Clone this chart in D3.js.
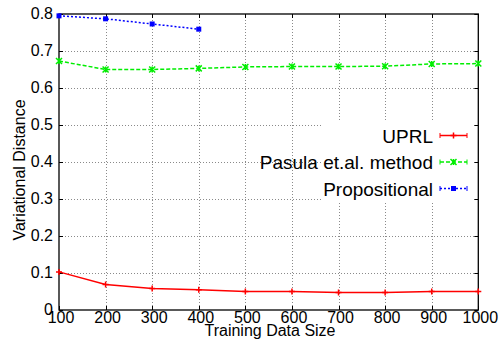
<!DOCTYPE html>
<html>
<head>
<meta charset="utf-8">
<script src="https://cdn.jsdelivr.net/npm/d3@7"></script>
<style>
  body { margin: 0; background: #fff; }
  svg { display: block; font-family: "Liberation Sans", Arial, sans-serif; }
</style>
</head>
<body>
<svg id="chart" width="500" height="339"></svg>
<script>
// data
const sizes = [100, 200, 300, 400, 500, 600, 700, 800, 900, 1000];
const uprl = [0.103, 0.069, 0.058, 0.055, 0.050, 0.050, 0.047, 0.047, 0.050, 0.050];
const pasula = [0.673, 0.650, 0.650, 0.653, 0.657, 0.658, 0.658, 0.659, 0.665, 0.666];
const propSizes = [100, 200, 300, 400];
const propositional = [0.795, 0.787, 0.773, 0.759];
const yTicks = [0, 0.1, 0.2, 0.3, 0.4, 0.5, 0.6, 0.7, 0.8];
const seriesNames = ['UPRL', 'Pasula et.al. method', 'Propositional'];

const svg = d3.select('#chart');
const plotL = 59, plotR = 478.3, plotT = 14, plotB = 310;

const x = d3.scaleLinear().domain([100, 1000]).range([plotL, plotR]);
const y = d3.scaleLinear().domain([0, 0.8]).range([plotB, plotT]);

// grid
const grid = svg.append('g').attr('class', 'grid')
    .attr('stroke', '#8a8a8a').attr('stroke-width', 1).attr('stroke-dasharray', '1,2');
grid.selectAll('line.v').data(sizes.slice(1, -1)).join('line')
    .attr('x1', d => Math.round(x(d)) + 0.5).attr('x2', d => Math.round(x(d)) + 0.5)
    .attr('y1', plotT).attr('y2', plotB);
grid.selectAll('line.h').data(yTicks.slice(1, -1)).join('line')
    .attr('x1', plotL).attr('x2', plotR)
    .attr('y1', d => Math.round(y(d)) + 0.5).attr('y2', d => Math.round(y(d)) + 0.5);

// key background (blanks the grid)
svg.append('rect').attr('x', 322).attr('y', 120).attr('width', plotR - 322).attr('height', 81)
    .attr('fill', '#fff');

// mirror ticks
const ticks = svg.append('g').attr('stroke', '#000').attr('stroke-width', 1);
yTicks.forEach(v => {
  const yy = Math.round(y(v)) + 0.5;
  ticks.append('line').attr('x1', plotL).attr('x2', plotL + 4).attr('y1', yy).attr('y2', yy);
  ticks.append('line').attr('x1', plotR - 4).attr('x2', plotR).attr('y1', yy).attr('y2', yy);
});
sizes.forEach(v => {
  const xx = Math.round(x(v)) + 0.5;
  ticks.append('line').attr('x1', xx).attr('x2', xx).attr('y1', plotB).attr('y2', plotB - 4);
  ticks.append('line').attr('x1', xx).attr('x2', xx).attr('y1', plotT).attr('y2', plotT + 4);
});

// border
svg.append('rect').attr('x', plotL).attr('y', plotT).attr('width', plotR - plotL).attr('height', plotB - plotT)
    .attr('fill', 'none').attr('stroke', '#000').attr('stroke-width', 1.3);

// tick labels via d3 axes
const yAxis = svg.append('g').attr('transform', `translate(${plotL},0)`)
    .call(d3.axisLeft(y).tickValues(yTicks).tickSize(0).tickPadding(6)
      .tickFormat(d => d === 0 ? '0' : d3.format('.1f')(d)));
yAxis.select('.domain').remove();
yAxis.selectAll('text').attr('font-size', 16).attr('fill', '#000')
    .attr('font-family', '"Liberation Sans", Arial, sans-serif')
    .attr('dy', null).attr('y', 4.2);

const xAxis = svg.append('g').attr('transform', `translate(0,${plotB})`)
    .call(d3.axisBottom(x).tickValues(sizes).tickSize(0).tickFormat(d3.format('d')));
xAxis.select('.domain').remove();
xAxis.selectAll('text').attr('font-size', 16).attr('fill', '#000')
    .attr('font-family', '"Liberation Sans", Arial, sans-serif')
    .attr('dy', null).attr('y', 12.7).attr('x', 1.5);

svg.append('text').attr('x', 270).attr('y', 336).attr('text-anchor', 'middle')
    .attr('font-size', 16).text('Training Data Size');
svg.append('text').attr('transform', 'translate(25,170) rotate(-90)').attr('text-anchor', 'middle')
    .attr('font-size', 16).text('Variational Distance');

// series
const colors = ['#ff0000', '#00ee00', '#0000ff'];
const dashes = [null, '4,2', '2,2'];
const line = d3.line().x(d => x(d[0])).y(d => y(d[1]));

function marker(g, kind, cx, cy, color) {
  if (kind === 0) {
    g.append('path').attr('d', `M${cx - 3},${cy}H${cx + 3}M${cx},${cy - 3}V${cy + 3}`)
      .attr('stroke', color).attr('stroke-width', 1.5);
  } else if (kind === 1) {
    g.append('path').attr('d', `M${cx - 3},${cy - 3}L${cx + 3},${cy + 3}M${cx - 3},${cy + 3}L${cx + 3},${cy - 3}M${cx},${cy - 3}V${cy + 3}`)
      .attr('stroke', color).attr('stroke-width', 1.5);
  } else {
    g.append('rect').attr('x', cx - 2.5).attr('y', cy - 2.5).attr('width', 5).attr('height', 5)
      .attr('fill', color);
  }
}

const series = [
  sizes.map((s, i) => [s, uprl[i]]),
  sizes.map((s, i) => [s, pasula[i]]),
  propSizes.map((s, i) => [s, propositional[i]])
];

series.forEach((pts, k) => {
  const g = svg.append('g');
  g.append('path').datum(pts).attr('d', line).attr('fill', 'none')
    .attr('stroke', colors[k]).attr('stroke-width', 1.5)
    .attr('stroke-dasharray', dashes[k]);
  pts.forEach(p => marker(g, k, x(p[0]), y(p[1]), colors[k]));
});

// key
const keyY = [135.5, 162, 188.5];
seriesNames.forEach((name, k) => {
  const g = svg.append('g');
  const cy = keyY[k];
  g.append('text').attr('x', 433).attr('y', cy + 7).attr('text-anchor', 'end')
    .attr('font-size', 19).text(name);
  g.append('line').attr('x1', 440).attr('x2', 467).attr('y1', cy).attr('y2', cy)
    .attr('stroke', colors[k]).attr('stroke-width', 1.5).attr('stroke-dasharray', dashes[k]);
  g.append('path').attr('d', `M440,${cy - 2.5}V${cy + 2.5}M467,${cy - 2.5}V${cy + 2.5}`)
    .attr('stroke', colors[k]).attr('stroke-width', 1);
  marker(g, k, 453.5, cy, colors[k]);
});
</script>
</body>
</html>
